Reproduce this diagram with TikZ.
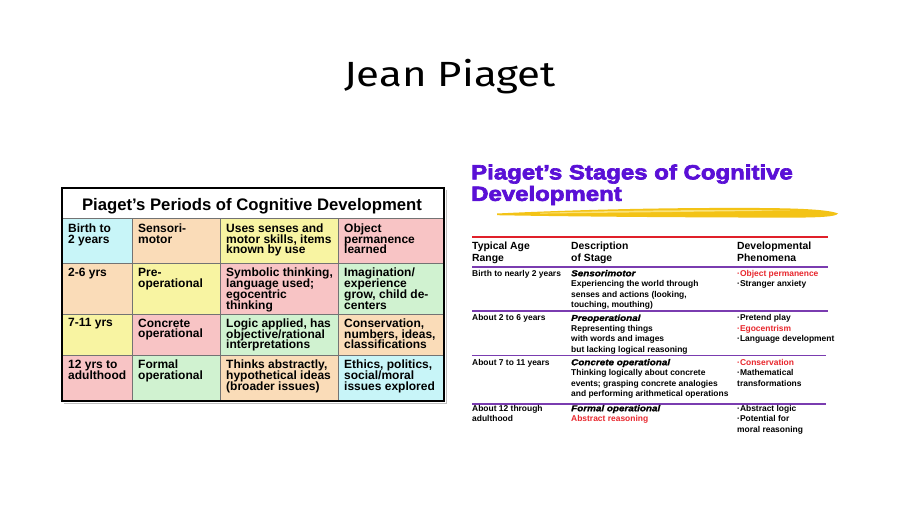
\documentclass[tikz,border=0pt]{standalone}
\usepackage{fontspec}
\setmainfont{Liberation Sans}
\newfontfamily\titlefont{Fira Sans}[FakeStretch=1.2]
\newfontfamily\purplefont{Liberation Sans Bold}[FakeStretch=1.17,FakeBold=3.2]
\newfontfamily\heavyitfont{Liberation Sans Bold Italic}[FakeStretch=1.15,FakeBold=1.5]
\definecolor{ptitle}{HTML}{5A10D6}
\definecolor{pline}{HTML}{7A3CB0}
\definecolor{rline}{HTML}{E0202A}
\definecolor{rtext}{HTML}{E8262C}
\definecolor{ccyan}{HTML}{C8F5F8}
\definecolor{cpeach}{HTML}{FADCB8}
\definecolor{cyellow}{HTML}{F8F4A2}
\definecolor{cpink}{HTML}{F8C4C5}
\definecolor{cgreen}{HTML}{D0F2D0}
\definecolor{brush}{HTML}{F3C316}
\definecolor{brushlight}{HTML}{FAE27A}
\newcommand\nols{\lineskiplimit -20pt\relax}
\newcommand\hit[1]{{\fontsize{8.6}{10.45}\selectfont\heavyitfont #1}}
\newcommand\rd[1]{{\color{rtext}#1}}
\begin{document}
\begin{tikzpicture}[x=1pt,y=-1pt,
  ltext/.style={anchor=north west,inner sep=0,align=left,font=\fontsize{12}{10.8}\selectfont\bfseries\nols},
  rtext/.style={anchor=north west,inner sep=0,align=left,font=\fontsize{8.45}{10.45}\selectfont\bfseries\nols},
  htext/.style={anchor=north west,inner sep=0,align=left,font=\fontsize{10.4}{11.7}\selectfont\bfseries\nols},
  gridline/.style={draw=black!55,line width=0.8pt},
  sepline/.style={draw=pline,line width=1.4pt}]
\useasboundingbox (0,0) rectangle (900,506);
\fill[white] (0,0) rectangle (900,506);
% main title
\node[anchor=base,inner sep=0,font=\fontsize{35}{40}\selectfont\titlefont] (main) at (450,86.7) {Jean Piaget};

% ---------- left table ----------
\draw[black!25,line width=1.5pt] (64,403.5) -- (446.5,403.5) -- (446.5,190);
\fill[white] (62,188) rectangle (444,218);
\foreach \ya/\yb/\ca/\cb/\cc/\cd in {218/263/ccyan/cpeach/cyellow/cpink,263/314/cpeach/cyellow/cpink/cgreen,314/355/cyellow/cpink/cgreen/cpeach,355/401/cpink/cgreen/cpeach/ccyan}{
  \fill[\ca] (62,\ya) rectangle (132,\yb);
  \fill[\cb] (132,\ya) rectangle (220,\yb);
  \fill[\cc] (220,\ya) rectangle (338,\yb);
  \fill[\cd] (338,\ya) rectangle (444,\yb);
}
\foreach \xx in {132,220,338}{\draw[gridline] (\xx,218) -- (\xx,401);}
\foreach \yy in {218,263,314,355}{\draw[gridline] (62,\yy) -- (444,\yy);}
\draw[black,line width=2pt] (62,188) rectangle (444,401);
\node[anchor=base,inner sep=0,font=\fontsize{16.7}{18}\selectfont\bfseries] (ltitle) at (252,210) {Piaget’s Periods of Cognitive Development};

\node[ltext] (l11) at (68,223.5) {Birth to\\2 years};
\node[ltext] (l12) at (138,223.5) {Sensori-\\motor};
\node[ltext] (l13) at (226,223.5) {Uses senses and\\motor skills, items\\known by use};
\node[ltext] (l14) at (344,223.5) {Object\\permanence\\learned};
\node[ltext] (l21) at (68,268) {2-6 yrs};
\node[ltext] (l22) at (138,268) {Pre-\\operational};
\node[ltext] (l23) at (226,268) {Symbolic thinking,\\language used;\\egocentric\\thinking};
\node[ltext] (l24) at (344,268) {Imagination/\\experience\\grow, child de-\\centers};
\node[ltext] (l31) at (68,318.5) {7-11 yrs};
\node[ltext] (l32) at (138,318.5) {Concrete\\operational};
\node[ltext] (l33) at (226,318.5) {Logic applied, has\\objective/rational\\interpretations};
\node[ltext] (l34) at (344,318.5) {Conservation,\\numbers, ideas,\\classifications};
\node[ltext] (l41) at (68,360) {12 yrs to\\adulthood};
\node[ltext] (l42) at (138,360) {Formal\\operational};
\node[ltext] (l43) at (226,360) {Thinks abstractly,\\hypothetical ideas\\(broader issues)};
\node[ltext] (l44) at (344,360) {Ethics, politics,\\social/moral\\issues explored};

% ---------- right table ----------
\node[anchor=north west,inner sep=0,align=left,font=\fontsize{20.5}{21.5}\selectfont\purplefont\nols,text=ptitle] (rtitle) at (471,164.3) {Piaget’s Stages of Cognitive\\Development};
\fill[brush] (497,213.5) .. controls (570,210) and (660,207.5) .. (760,208)
  .. controls (800,208.3) and (828,209.5) .. (838,213.5)
  .. controls (836,217.5) and (810,217.8) .. (770,217.6)
  .. controls (660,217.3) and (570,216.5) .. (497,215.2) -- cycle;
\fill[brushlight] (540,212.8) .. controls (620,210.5) and (700,209.5) .. (790,210.5)
  .. controls (700,211.8) and (620,212.5) .. (540,213.6) -- cycle;

\draw[rline,line width=2pt] (472,237) -- (828,237);
\node[htext] (h1) at (472,241.8) {Typical Age\\Range};
\node[htext] (h2) at (571,241.8) {Description\\of Stage};
\node[htext] (h3) at (737,241.8) {Developmental\\Phenomena};
\draw[sepline] (472,267) -- (828,267);

\node[rtext] (a1) at (472,269.8) {Birth to nearly 2 years};
\node[rtext] (s1) at (571,269.8) {\hit{Sensorimotor}\\Experiencing the world through\\senses and actions (looking,\\touching, mouthing)};
\node[rtext] (p1) at (737,269.8) {\rd{·Object permanence}\\·Stranger anxiety};
\draw[sepline] (472,311) -- (828,311);

\node[rtext] (a2) at (472,314.5) {About 2 to 6 years};
\node[rtext] (s2) at (571,314.5) {\hit{Preoperational}\\Representing things\\with words and images\\but lacking logical reasoning};
\node[rtext] (p2) at (737,314.5) {·Pretend play\\\rd{·Egocentrism}\\·Language development};
\draw[sepline] (472,355.7) -- (826,355.7);

\node[rtext] (a3) at (472,358.8) {About 7 to 11 years};
\node[rtext] (s3) at (571,358.8) {\hit{Concrete operational}\\Thinking logically about concrete\\events; grasping concrete analogies\\and performing arithmetical operations};
\node[rtext] (p3) at (737,358.8) {\rd{·Conservation}\\·Mathematical\\transformations};
\draw[sepline] (472,404) -- (826,404);

\node[rtext] (a4) at (472,404.8) {About 12 through\\adulthood};
\node[rtext] (s4) at (571,404.8) {\hit{Formal operational}\\\rd{Abstract reasoning}};
\node[rtext] (p4) at (737,404.8) {·Abstract logic\\·Potential for\\moral reasoning};
\end{tikzpicture}
\end{document}
